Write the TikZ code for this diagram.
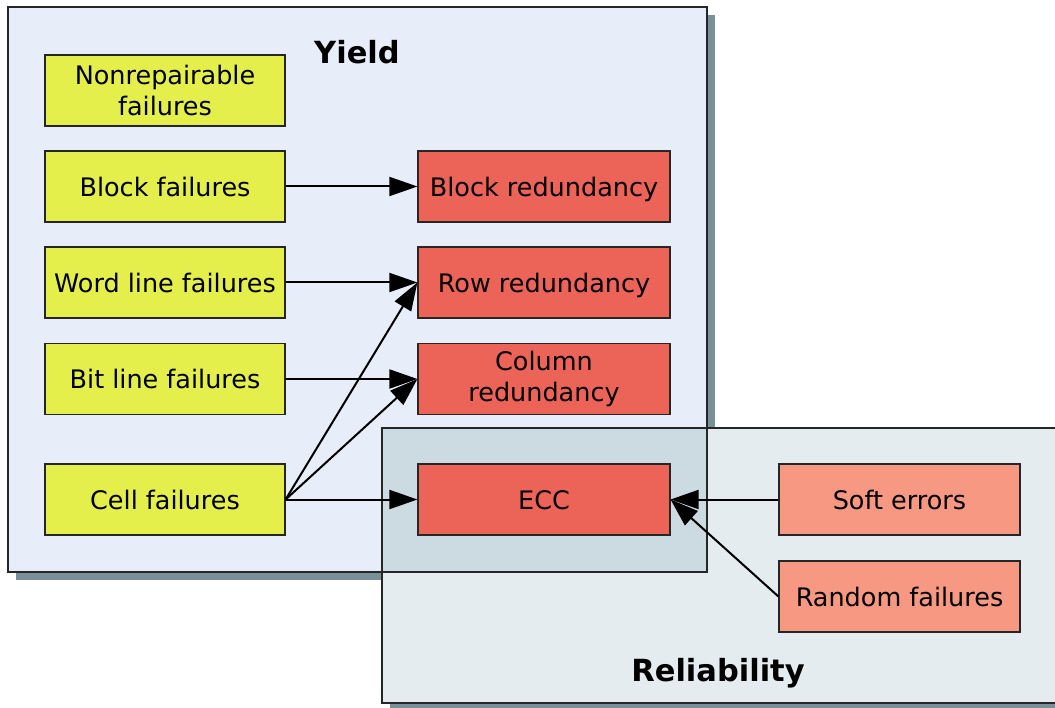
\documentclass[tikz,border=0pt]{standalone}
\usepackage{fontspec}
\setmainfont{DejaVu Sans}
\usetikzlibrary{arrows.meta}
\definecolor{failfill}{HTML}{E5EF4B}
\definecolor{fixfill}{HTML}{EC6358}
\definecolor{relfill}{HTML}{F79882}
\definecolor{yieldbg}{HTML}{E8EDFA}
\definecolor{relbg}{HTML}{E4ECF0}
\definecolor{bothbg}{HTML}{CCDAE1}
\definecolor{shadowc}{HTML}{7A9098}
\tikzset{
  box/.style={draw=black!85, line width=1.2pt, minimum width=240pt, minimum height=71pt,
    inner sep=0pt, align=center, font=\fontsize{25.5}{29.5}\selectfont},
  oneline/.style={text height=19.4pt, text depth=0pt},
  failbox/.style={box, fill=failfill},
  fixbox/.style={box, fill=fixfill, minimum width=252pt},
  relbox/.style={box, fill=relfill, minimum width=241pt},
  title/.style={font=\fontsize{30.5}{34}\selectfont\bfseries},
  link/.style={line width=2pt, -{Triangle[length=28pt,width=19pt]}},
  area/.style={draw=black!85, line width=1.2pt},
}
\begin{document}
\begin{tikzpicture}[x=1pt,y=-1pt]
\useasboundingbox (0,0) rectangle (1055,708);
\clip (0,0) rectangle (1055,708);
% yield area with its shadow
\fill[shadowc] (16,15) rectangle (715,580);
\filldraw[area, fill=yieldbg] (8,7) rectangle (707,572);
% reliability area with its shadow
\fill[shadowc] (390,436) rectangle (1070,711);
\filldraw[area, fill=relbg] (382,428) rectangle (1065,703);
% region shared by both areas
\fill[bothbg] (382,428) rectangle (707,572);
\draw[area] (382,572) -- (707,572) -- (707,428);
\draw[area] (382,572) -- (382,428) -- (707,428);

\node[title] (yield) at (357,52) {Yield};
\node[title] (rel) at (718,673) {Reliability};

% failure mechanisms
\node[failbox] (nonrep) at (165,90.5) {Nonrepairable\\[1.5pt]failures};
\node[failbox, oneline] (block) at (165,186.5) {Block failures};
\node[failbox, oneline] (word) at (165,282.5) {Word line failures};
\node[failbox, oneline] (bit) at (165,379) {Bit line failures};
\node[failbox, oneline] (cell) at (165,499.5) {Cell failures};

% repair techniques
\node[fixbox, oneline] (blockred) at (544,186.5) {Block redundancy};
\node[fixbox, oneline] (rowred) at (544,282.5) {Row redundancy};
\node[fixbox] (colred) at (544,379) {Column\\[1.5pt]redundancy};
\node[fixbox, oneline] (ecc) at (544,499.5) {ECC};

% reliability mechanisms
\node[relbox, oneline] (soft) at (899.5,499.5) {Soft errors};
\node[relbox, oneline] (random) at (899.5,596.5) {Random failures};

\draw[link] (block.east) -- (blockred.west);
\draw[link] (word.east) -- (rowred.west);
\draw[link] (bit.east) -- (colred.west);
\draw[link] (cell.east) -- (ecc.west);
\draw[link] (cell.east) -- (rowred.west);
\draw[link] (cell.east) -- (colred.west);
\draw[link] (soft.west) -- (ecc.east);
\draw[link] (random.west) -- (ecc.east);
\end{tikzpicture}
\end{document}
